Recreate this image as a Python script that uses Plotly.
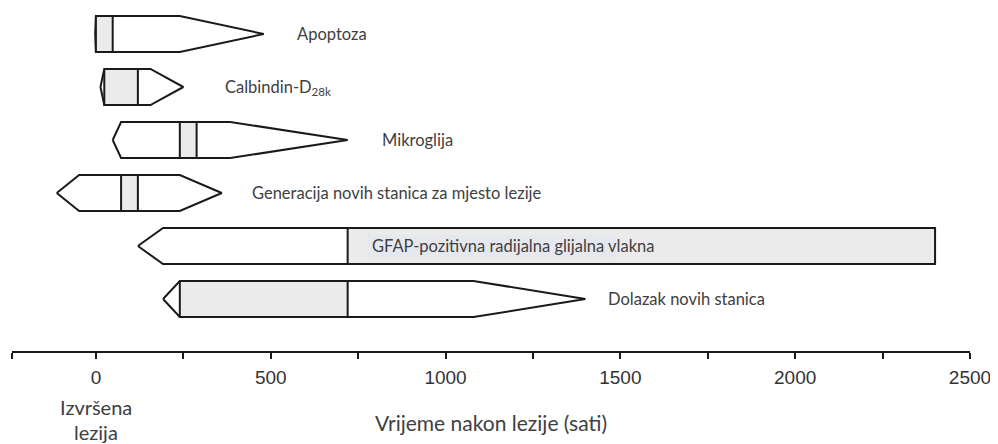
import plotly.graph_objects as go

# ---- data (hours after lesion) ----
labels = ["Apoptoza", "Calbindin-D<sub>28k</sub>", "Mikroglija",
          "Generacija novih stanica za mjesto lezije",
          "GFAP-pozitivna radijalna glijalna vlakna", "Dolazak novih stanica"]
left_tip = [-2, 13, 48, -112, 120, 192]
left_corner = [0, 24, 72, -48, 192, 240]
gray_start = [0, 24, 240, 72, 720, 240]
gray_end = [48, 120, 288, 120, 2400, 720]
right_corner = [240, 156, 384, 240, 2400, 1080]
right_tip = [480, 250, 720, 360, 2400, 1400]
label_x = [570, 364, 813, 441, 785, 1459]

major_ticks = [0, 500, 1000, 1500, 2000, 2500]
minor_ticks = [-240, 250, 750, 1250, 1750, 2250]

H = 0.34
LINE = "#1a1a1a"
GRAY = "#ebebeb"
TXT = "#404040"
FONT = "Lato"

fig = go.Figure()
for i in range(len(labels)):
    c, top, bot = i, i - H, i + H
    xs = [left_tip[i], left_corner[i], right_corner[i], right_tip[i],
          right_corner[i], left_corner[i], left_tip[i]]
    ys = [c, top, top, c, bot, bot, c]
    fig.add_trace(go.Scatter(x=xs, y=ys, mode="lines", fill="toself",
                             fillcolor="white", line=dict(color=LINE, width=2),
                             hoverinfo="skip", showlegend=False))
    gx = [gray_start[i], gray_end[i], gray_end[i], gray_start[i], gray_start[i]]
    gy = [top, top, bot, bot, top]
    fig.add_trace(go.Scatter(x=gx, y=gy, mode="lines", fill="toself",
                             fillcolor=GRAY, line=dict(color=LINE, width=2),
                             hoverinfo="skip", showlegend=False))

annotations = []
for i, lab in enumerate(labels):
    annotations.append(dict(x=label_x[i], y=i, xref="x", yref="y", text=lab,
                            showarrow=False, xanchor="left", yanchor="middle",
                            font=dict(family=FONT, size=16.5, color=TXT)))

annotations.append(dict(x=0, y=0, xref="x", yref="paper", text="Izvršena",
                        showarrow=False, xanchor="center", yanchor="middle",
                        yshift=-56, font=dict(family=FONT, size=20, color=TXT)))
annotations.append(dict(x=0, y=0, xref="x", yref="paper", text="lezija",
                        showarrow=False, xanchor="center", yanchor="middle",
                        yshift=-81, font=dict(family=FONT, size=20, color=TXT)))

# text highlight behind the GFAP label
shapes = [dict(type="rect", xref="x", yref="y", x0=777, x1=1486,
               y0=4 - 0.21, y1=4 + 0.21, fillcolor="#e6e8ef",
               line=dict(width=0), layer="above")]

fig.update_layout(
    width=990, height=436,
    margin=dict(l=4, r=28, t=0, b=93),
    paper_bgcolor="white", plot_bgcolor="white",
    annotations=annotations, shapes=shapes,
    xaxis=dict(range=[-240, 2500], showgrid=False, zeroline=False,
               showline=True, linecolor=LINE, linewidth=2,
               ticks="outside", ticklen=6, tickwidth=2, tickcolor=LINE,
               tickmode="array", tickvals=major_ticks,
               ticktext=[str(t) for t in major_ticks],
               tickfont=dict(family="Liberation Sans", size=19, color="#333333"),
               ticklabelstandoff=2,
               minor=dict(tickmode="array", tickvals=minor_ticks, ticks="outside",
                          ticklen=6, tickwidth=2, tickcolor=LINE, showgrid=False),
               title=dict(text="Vrijeme nakon lezije (sati)", standoff=30,
                          font=dict(family=FONT, size=21, color=TXT))),
    yaxis=dict(visible=False, range=[5.981, -0.4906]),
)

fig.write_html("out.html")
